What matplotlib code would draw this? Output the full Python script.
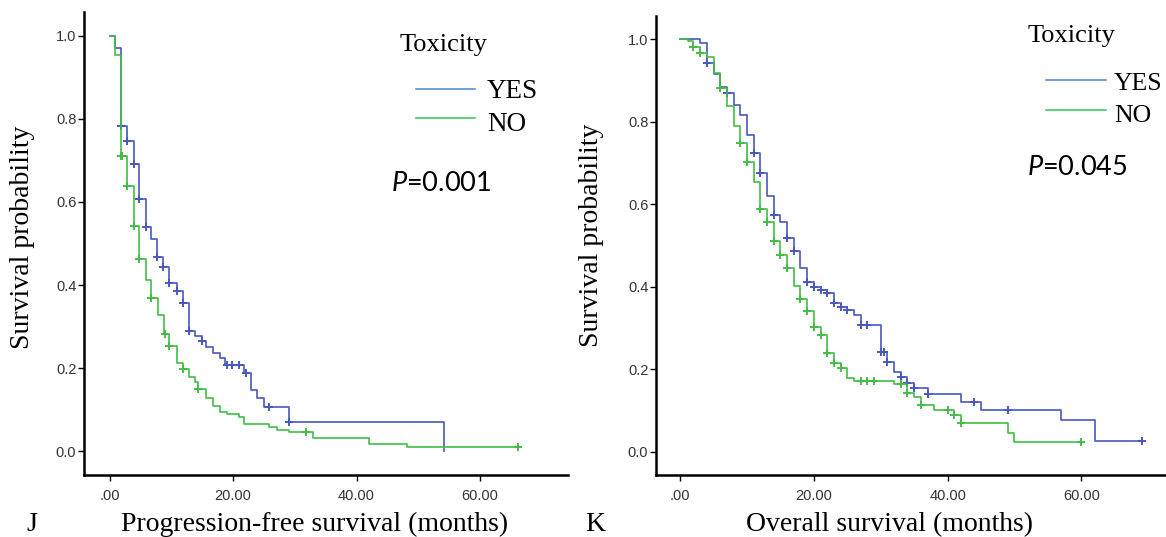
import matplotlib
matplotlib.use('Agg')
import matplotlib.pyplot as plt
from matplotlib.lines import Line2D
import numpy as np

plt.rcParams['mathtext.fontset'] = 'custom'
plt.rcParams['mathtext.it'] = 'Lato:italic'
plt.rcParams['mathtext.rm'] = 'Lato'

# Progression-free survival, toxicity YES
pfs_yes_t = [0, 0.9, 1.8, 2.9, 3.9, 4.8, 5.9, 6.8, 7.7, 8.7, 9.7, 10.9, 11.9, 12.8,
             13.85, 14.9, 15.7, 16.8, 17.9, 18.7, 21.8, 22.9, 23.9, 25.1, 29.0, 54.1]
pfs_yes_s = [1.0, 0.970, 0.783, 0.746, 0.692, 0.608, 0.540, 0.512, 0.468, 0.444, 0.404,
             0.385, 0.357, 0.290, 0.277, 0.265, 0.251, 0.237, 0.223, 0.207, 0.189, 0.147,
             0.127, 0.107, 0.071, 0.0]
pfs_yes_cens = [1.8, 2.9, 3.9, 4.8, 5.9, 7.7, 8.7, 9.7, 10.9, 11.9, 12.8, 14.9,
                19.0, 19.9, 21.0, 22.1, 25.9, 29.0]

# Progression-free survival, toxicity NO
pfs_no_t = [0, 0.9, 1.8, 2.8, 3.9, 4.8, 5.9, 6.8, 7.8, 8.9, 9.7, 10.9, 11.95, 12.8,
            13.85, 14.4, 15.7, 16.8, 17.9, 19.0, 20.9, 21.8, 25.9, 27.1, 29.0, 33.0,
            42.1, 48.1, 66.2]
pfs_no_s = [1.0, 0.954, 0.712, 0.638, 0.541, 0.463, 0.412, 0.368, 0.328, 0.281, 0.253,
            0.211, 0.197, 0.179, 0.167, 0.149, 0.127, 0.108, 0.095, 0.088, 0.083, 0.064,
            0.058, 0.051, 0.045, 0.031, 0.018, 0.009, 0.009]
pfs_no_cens = [1.8, 2.0, 2.9, 3.9, 4.8, 6.8, 9.0, 9.7, 11.95, 14.4, 31.9, 66.2]

# Overall survival, toxicity YES
os_yes_t = [0, 3, 4, 5, 6, 7, 8, 9, 10, 11, 12, 13, 14, 15, 16, 17, 18, 19, 20, 21, 22,
            23, 24, 25, 26, 27, 30, 31, 32, 33, 34, 35, 37, 42, 45, 57, 62, 69]
os_yes_s = [1.0, 0.990, 0.943, 0.915, 0.884, 0.869, 0.840, 0.816, 0.768, 0.723, 0.675,
            0.619, 0.575, 0.557, 0.518, 0.486, 0.445, 0.411, 0.400, 0.392, 0.386, 0.360,
            0.352, 0.344, 0.332, 0.308, 0.241, 0.219, 0.194, 0.181, 0.168, 0.156, 0.140,
            0.122, 0.102, 0.077, 0.027, 0.027]
os_yes_cens = [4, 7, 11, 12, 14, 16, 17, 19, 20, 21, 22, 23, 24, 25, 27, 28, 30, 30.5,
               31, 33, 34, 35, 37, 44, 49, 69]

# Overall survival, toxicity NO
os_no_t = [0, 1.25, 2, 3, 4, 5, 6, 7, 8, 9, 10, 11, 12, 13, 14, 15, 16, 17, 18, 19, 20,
           21, 22, 23, 24, 25, 26, 32, 34, 35, 36, 38, 41, 42, 49, 50, 60]
os_no_s = [1.0, 0.994, 0.980, 0.965, 0.957, 0.917, 0.881, 0.838, 0.789, 0.748, 0.701,
           0.654, 0.588, 0.558, 0.510, 0.476, 0.445, 0.403, 0.370, 0.342, 0.303, 0.283,
           0.240, 0.215, 0.203, 0.178, 0.172, 0.165, 0.142, 0.134, 0.114, 0.102, 0.090,
           0.071, 0.047, 0.023, 0.023]
os_no_cens = [2, 3, 6, 9, 10, 12, 13, 14, 15, 16, 18, 19, 20, 21, 22, 23, 24, 27, 28,
              29, 33, 34, 36, 40, 41, 42, 60]

x_ticks = [0, 20, 40, 60]
x_tick_labels = ['.00', '20.00', '40.00', '60.00']
y_ticks = [0.0, 0.2, 0.4, 0.6, 0.8, 1.0]
y_tick_labels = ['0.0', '0.2', '0.4', '0.6', '0.8', '1.0']

BLUE = '#4858bf'
GREEN = '#43bd47'
SERIF = 'Liberation Serif'
W, H = 1166, 537


def km_curve(ax, t, s, cens, color):
    t = np.array(t)
    s = np.array(s)
    ax.step(t, s, where='post', color=color, lw=1.2)
    idx = np.searchsorted(t, cens, side='right') - 1
    ax.plot(cens, s[idx], ls='none', marker='+', ms=6, mew=1.4, color=color)


def style_axes(ax, xlim, ylim):
    ax.set_xlim(*xlim)
    ax.set_ylim(*ylim)
    ax.spines['top'].set_visible(False)
    ax.spines['right'].set_visible(False)
    for sp in ('left', 'bottom'):
        ax.spines[sp].set_linewidth(1.8)
        ax.spines[sp].set_color('black')
    ax.set_xticks(x_ticks)
    ax.set_xticklabels(x_tick_labels)
    ax.set_yticks(y_ticks)
    ax.set_yticklabels(y_tick_labels)
    ax.tick_params(axis='both', length=4, width=1.0, labelsize=10.5,
                   labelcolor='#333333', labelfontfamily='Liberation Sans')
    ax.tick_params(axis='x', pad=6)
    ax.tick_params(axis='y', pad=1.5)


def fig_xy(px, py):
    return px / W, 1 - py / H


def legend_block(fig, title_xy, line_x, yes_y, no_y, text_x, yes_base, no_base, size=19.5):
    fig.text(*fig_xy(*title_xy), 'Toxicity', family=SERIF, fontsize=19, va='baseline')
    for y, c in ((yes_y, '#4a88d2'), (no_y, '#33c452')):
        x0, y0 = fig_xy(line_x[0], y)
        x1, _ = fig_xy(line_x[1], y)
        fig.add_artist(Line2D([x0, x1], [y0, y0], color=c, lw=1.1))
    fig.text(*fig_xy(text_x, yes_base), 'YES', family=SERIF, fontsize=size, va='baseline')
    fig.text(*fig_xy(text_x, no_base), 'NO', family=SERIF, fontsize=size, va='baseline')


fig = plt.figure(figsize=(W / 100, H / 100), dpi=100)

# Left panel: progression-free survival
ax1 = fig.add_axes([84 / W, 1 - 475 / H, (568 - 84) / W, (475 - 12) / H])
km_curve(ax1, pfs_yes_t, pfs_yes_s, pfs_yes_cens, BLUE)
km_curve(ax1, pfs_no_t, pfs_no_s, pfs_no_cens, GREEN)
style_axes(ax1, (-4.13, 74.25), (-0.0578, 1.0578))

# Right panel: overall survival
ax2 = fig.add_axes([656 / W, 1 - 475 / H, (W - 656) / W + 0.01, (475 - 16) / H])
km_curve(ax2, os_yes_t, os_yes_s, os_yes_cens, BLUE)
km_curve(ax2, os_no_t, os_no_s, os_no_cens, GREEN)
style_axes(ax2, (-3.6, 74.4), (-0.0557, 1.0557))

# axis titles and panel letters
fig.text(*fig_xy(315, 531), 'Progression-free survival (months)', family=SERIF,
         fontsize=20, ha='center', va='baseline')
fig.text(*fig_xy(890, 531), 'Overall survival (months)', family=SERIF,
         fontsize=20, ha='center', va='baseline')
fig.text(*fig_xy(26, 531), 'J', family=SERIF, fontsize=20, va='baseline')
fig.text(*fig_xy(585, 531), 'K', family=SERIF, fontsize=20, va='baseline')
fig.text(*fig_xy(23, 237), 'Survival probability', family=SERIF, fontsize=20,
         rotation=90, ha='center', va='center')
fig.text(*fig_xy(592, 235), 'Survival probability', family=SERIF, fontsize=20,
         rotation=90, ha='center', va='center')

# legends
legend_block(fig, (400, 51), (416, 475), 89, 118, 487, 98, 131)
legend_block(fig, (1028, 42), (1046, 1106), 80, 110, 1114, 90, 122, size=18.5)

# log-rank p values
fig.text(*fig_xy(391, 191), '$P$=0.001', family='Lato', fontsize=19.5, va='baseline')
fig.text(*fig_xy(1027, 175), '$P$=0.045', family='Lato', fontsize=19.5, va='baseline')

fig.savefig('out.png', dpi=100)
